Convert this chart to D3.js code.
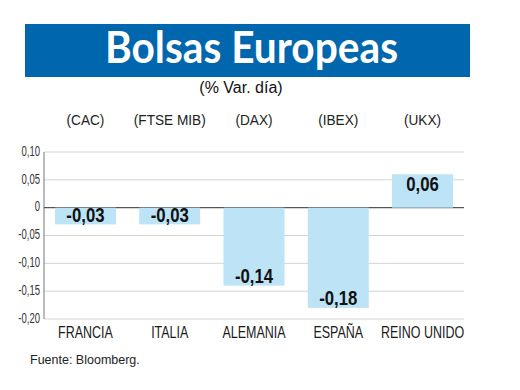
<!DOCTYPE html>
<html>
<head>
<meta charset="utf-8">
<script src="https://cdn.jsdelivr.net/npm/d3@7"></script>
<style>
  body { margin: 0; background: #fff; }
  text { font-family: "Liberation Sans", Arial, sans-serif; }
</style>
</head>
<body>
<div id="chart"></div>
<script>
const categories = ["FRANCIA", "ITALIA", "ALEMANIA", "ESPAÑA", "REINO UNIDO"];
const indices = ["(CAC)", "(FTSE MIB)", "(DAX)", "(IBEX)", "(UKX)"];
const values = [-0.03, -0.03, -0.14, -0.18, 0.06];
const yTicks = [0.10, 0.05, 0, -0.05, -0.10, -0.15, -0.20];

const width = 520, height = 390;
const plot = { left: 44, right: 464, top: 152, bottom: 319 };

const svg = d3.select("#chart").append("svg")
  .attr("width", width).attr("height", height);

// number format with comma decimals
const fmt = (d) => d === 0 ? "0" : d3.format(".2f")(d).replace(".", ",").replace("−", "-");

// banner
svg.append("rect")
  .attr("x", 25).attr("y", 24).attr("width", 445).attr("height", 53)
  .attr("fill", "#0066ad");

svg.append("text")
  .attr("x", 251.5).attr("y", 63)
  .attr("text-anchor", "middle")
  .attr("fill", "#fff")
  .style("font-family", "Lato, 'Open Sans', sans-serif")
  .style("font-weight", "bold")
  .style("font-size", "43px")
  .attr("textLength", 293)
  .attr("lengthAdjust", "spacingAndGlyphs")
  .text("Bolsas Europeas");

svg.append("text")
  .attr("x", 241).attr("y", 93)
  .attr("text-anchor", "middle")
  .attr("fill", "#111")
  .style("font-size", "16px")
  .text("(% Var. día)");

// scales
const x = d3.scaleBand()
  .domain(categories)
  .range([plot.left, plot.right])
  .paddingInner(0.276)
  .paddingOuter(0.13);

const y = d3.scaleLinear()
  .domain([-0.20, 0.10])
  .range([plot.bottom, plot.top]);

// condensed text helper
function condensed(sel, sx) {
  sel.attr("transform", function () {
    const t = d3.select(this);
    return `translate(${t.attr("data-x")},${t.attr("data-y")}) scale(${sx},1)`;
  });
}

// index labels
svg.append("g").selectAll("text")
  .data(indices)
  .join("text")
  .attr("data-x", (d, i) => x(categories[i]) + x.bandwidth() / 2)
  .attr("data-y", 125)
  .attr("text-anchor", "middle")
  .attr("fill", "#222")
  .style("font-size", "15.5px")
  .text((d) => d)
  .call(condensed, 0.88);

// grid
svg.append("g").selectAll("line")
  .data(yTicks.filter((d) => d !== 0))
  .join("line")
  .attr("x1", plot.left).attr("x2", plot.right)
  .attr("y1", (d) => y(d)).attr("y2", (d) => y(d))
  .attr("stroke", "#d4d4d4").attr("stroke-width", 1);

// y axis
const yAxis = d3.axisLeft(y).tickValues(yTicks).tickSize(0).tickPadding(4).tickFormat(fmt);
const gy = svg.append("g").attr("transform", `translate(${plot.left},0)`).call(yAxis);
gy.attr("font-size", null).attr("font-family", null);
gy.select(".domain").attr("stroke", "#777").attr("d", `M0,${y(0.10)}V${y(-0.20)}`);
gy.selectAll(".tick text")
  .attr("fill", "#333")
  .style("font-family", "'Liberation Sans', Arial, sans-serif")
  .style("font-size", "14px")
  .attr("x", null)
  .attr("dy", "0.3em")
  .attr("transform", "translate(-4,-1) scale(0.68,1)");

// zero line
svg.append("line")
  .attr("x1", plot.left).attr("x2", plot.right)
  .attr("y1", y(0)).attr("y2", y(0))
  .attr("stroke", "#555").attr("stroke-width", 1.2);

// bars
svg.append("g").selectAll("rect")
  .data(values)
  .join("rect")
  .attr("x", (d, i) => x(categories[i]))
  .attr("width", x.bandwidth())
  .attr("y", (d) => y(Math.max(0, d)))
  .attr("height", (d) => Math.abs(y(d) - y(0)))
  .attr("fill", "#bde3f7");

// value labels
svg.append("g").selectAll("text")
  .data(values)
  .join("text")
  .attr("data-x", (d, i) => x(categories[i]) + x.bandwidth() / 2)
  .attr("data-y", (d) => d < 0 ? y(d) - 2.5 : y(d) + 16.5)
  .attr("text-anchor", "middle")
  .attr("fill", "#111")
  .style("font-size", "19.5px")
  .style("font-weight", "bold")
  .text((d) => fmt(d))
  .call(condensed, 0.86);

// category labels
svg.append("g").selectAll("text")
  .data(categories)
  .join("text")
  .attr("data-x", (d) => x(d) + x.bandwidth() / 2)
  .attr("data-y", 338)
  .attr("text-anchor", "middle")
  .attr("fill", "#1a1a1a")
  .style("font-size", "16px")
  .text((d) => d)
  .call(condensed, 0.78);

// source
svg.append("text")
  .attr("x", 30).attr("y", 364)
  .attr("fill", "#222")
  .style("font-size", "12.5px")
  .text("Fuente: Bloomberg.");
</script>
</body>
</html>
